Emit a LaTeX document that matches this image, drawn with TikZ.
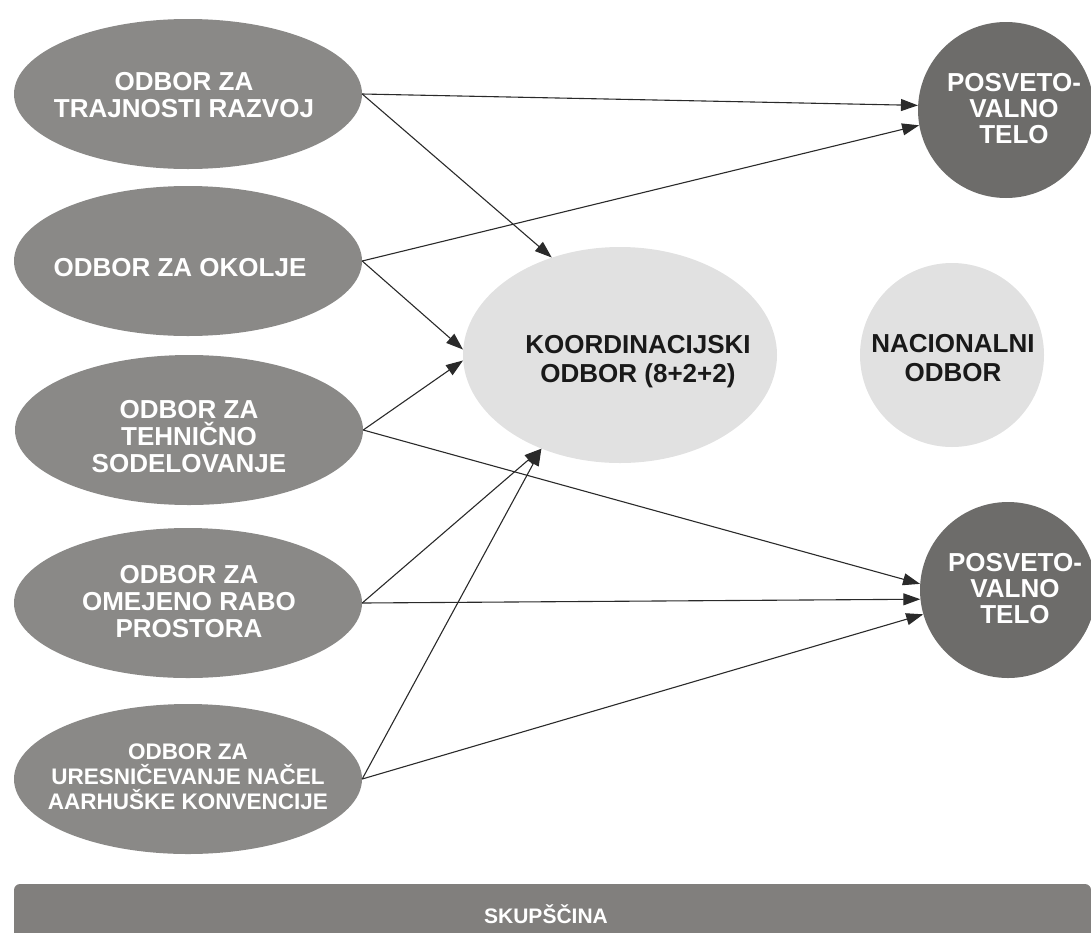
\documentclass[tikz,border=0pt]{standalone}
\usepackage{fontspec}
\setmainfont{Liberation Sans}
\usetikzlibrary{shapes.geometric,arrows.meta}
\definecolor{midgray}{HTML}{8A8987}
\definecolor{darkgray}{HTML}{6D6C6A}
\definecolor{lightgray}{HTML}{E1E1E1}
\definecolor{bargray}{HTML}{817F7D}
\definecolor{linegray}{HTML}{2A2A2A}
\begin{document}
\begin{tikzpicture}[x=1pt,y=-1pt,
  odbor/.style={ellipse,fill=midgray,draw=none,inner sep=0pt,minimum width=348pt,minimum height=150pt},
  koord/.style={ellipse,fill=lightgray,draw=none,inner sep=0pt,minimum width=314pt,minimum height=216pt},
  nacional/.style={circle,fill=lightgray,draw=none,inner sep=0pt,minimum size=184pt},
  posvet/.style={circle,fill=darkgray,draw=none,inner sep=0pt,minimum size=176pt},
  wtext/.style={text=white,font=\bfseries\fontsize{26}{27}\selectfont,align=center,inner sep=0pt},
  wsmall/.style={text=white,font=\bfseries\fontsize{22.5}{25}\selectfont,align=center,inner sep=0pt},
  btext/.style={text=black!90,font=\bfseries\fontsize{26}{29}\selectfont,align=center,inner sep=0pt},
  ptext/.style={text=white,font=\bfseries\fontsize{26}{26}\selectfont,align=center,inner sep=0pt},
  link/.style={draw=linegray,line width=1.1pt,-{Triangle[length=17pt,width=12pt]}}]
\useasboundingbox (0,0) rectangle (1091,932);

% committees on the left
\node[odbor] (o1) at (188,94) {};
\node[odbor] (o2) at (188,261) {};
\node[odbor] (o3) at (189,430) {};
\node[odbor] (o4) at (188,603) {};
\node[odbor] (o5) at (188,779) {};
\node[wtext] (o1t) at (184,95) {ODBOR ZA\\TRAJNOSTI RAZVOJ};
\node[wtext] (o2t) at (180,268) {ODBOR ZA OKOLJE};
\node[wtext] (o3t) at (189,437) {ODBOR ZA\\TEHNIČNO\\SODELOVANJE};
\node[wtext] (o4t) at (189,602) {ODBOR ZA\\OMEJENO RABO\\PROSTORA};
\node[wsmall] (o5t) at (188,777) {ODBOR ZA\\URESNIČEVANJE NAČEL\\AARHUŠKE KONVENCIJE};

% coordinating and national bodies
\node[koord] (k) at (620,355) {};
\node[btext] (kt) at (638,362) {KOORDINACIJSKI\\ODBOR (8+2+2)};
\node[nacional] (n) at (952,355) {};
\node[btext] (nt) at (953,358) {NACIONALNI\\ODBOR};

% advisory bodies
\node[posvet] (p1) at (1006,110) {};
\node[ptext] (p1t) at (1014,109) {POSVETO-\\VALNO\\TELO};
\node[posvet] (p2) at (1008,590) {};
\node[ptext] (p2t) at (1015,589) {POSVETO-\\VALNO\\TELO};

% assembly bar
\begin{scope}
\clip (0,0) rectangle (1091,932);
\fill[bargray,rounded corners=6pt] (14,884) rectangle (1091,950);
\end{scope}
\node[text=white,font=\bfseries\fontsize{21}{21}\selectfont,inner sep=0pt] (s) at (546,914) {SKUPŠČINA};

% links
\draw[link] (o1.east) -- (p1.177.4);
\draw[link] (o1.east) -- (k.125.7);
\draw[link] (o2.east) -- (p1.190.5);
\draw[link] (o2.east) -- (k.178.2);
\draw[link] (o3.east) -- (k.182);
\draw[link] (o3.east) -- (p2.176.7);
\draw[link] (o4.east) -- (k.230.4);
\draw[link] (o4.east) -- (p2.186.5);
\draw[link] (o5.east) -- (k.230.4);
\draw[link] (o5.east) -- (p2.196.5);
\end{tikzpicture}
\end{document}
